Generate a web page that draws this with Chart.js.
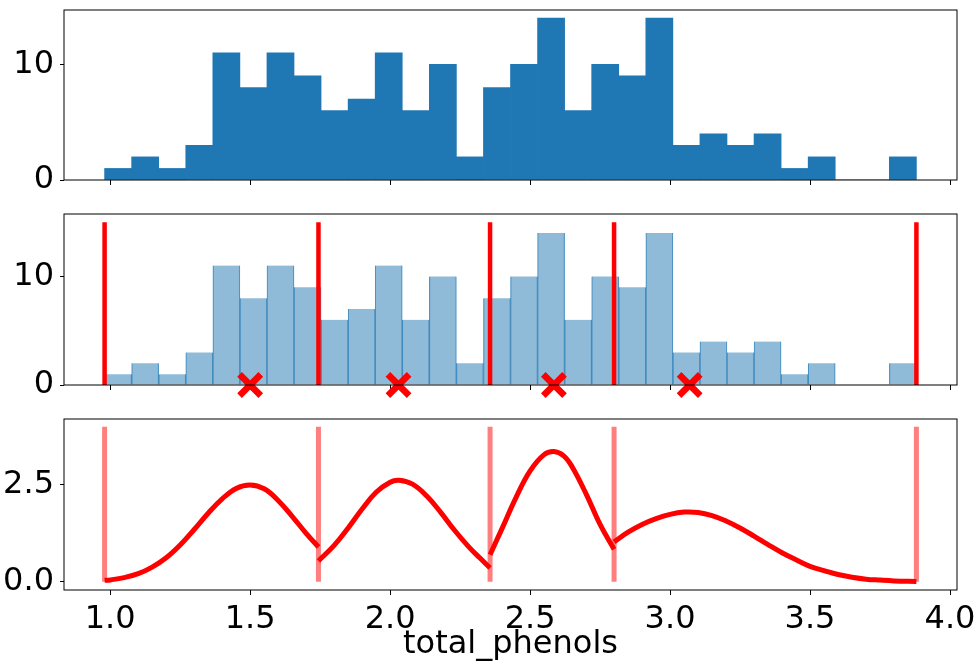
<!DOCTYPE html>
<html>
<head>
<meta charset="utf-8">
<script src="https://cdn.jsdelivr.net/npm/chart.js@4"></script>
<style>
  html, body { margin: 0; padding: 0; background: #fff; }
  #wrap { position: relative; width: 976px; height: 663px; }
  canvas { position: absolute; left: 0; }
</style>
</head>
<body>
<div id="wrap">
  <canvas id="top-hist" width="976" height="200" style="top:0px"></canvas>
  <canvas id="mid-hist" width="976" height="205" style="top:200px"></canvas>
  <canvas id="bins-curve" width="976" height="258" style="top:405px"></canvas>
</div>
<script>
// histogram of total_phenols, 30 bins
const binStart = 0.98;
const binEnd = 3.88;
const binCounts = [1, 2, 1, 3, 11, 8, 11, 9, 6, 7, 11, 6, 10, 2, 8, 10, 14, 6, 10, 9, 14, 3, 4, 3, 4, 1, 2, 0, 0, 2];

// bin edges (red lines) and cluster centers (red crosses)
const binEdges = [0.98, 1.744, 2.357, 2.80, 3.88];
const centers = [1.50, 2.03, 2.585, 3.07];
const edgeLineTop = 15;
const curveLineTop = 4;

// per-bin curves, [x, y]
const curve1 = [[0.98, 0.04], [1.00, 0.05], [1.05, 0.11], [1.10, 0.21], [1.15, 0.38], [1.20, 0.62], [1.25, 0.95],
  [1.30, 1.35], [1.35, 1.77], [1.40, 2.14], [1.45, 2.41], [1.50, 2.50], [1.55, 2.40], [1.60, 2.10], [1.65, 1.69],
  [1.70, 1.25], [1.744, 0.90]];
const curve2 = [[1.744, 0.54], [1.80, 0.94], [1.85, 1.39], [1.90, 1.88], [1.95, 2.31], [2.00, 2.57], [2.032, 2.62],
  [2.08, 2.52], [2.13, 2.22], [2.18, 1.80], [2.23, 1.33], [2.28, 0.91], [2.32, 0.62], [2.357, 0.36]];
const curve3 = [[2.357, 0.70], [2.40, 1.38], [2.45, 2.18], [2.50, 2.86], [2.55, 3.28], [2.585, 3.36], [2.62, 3.25],
  [2.65, 2.97], [2.70, 2.27], [2.75, 1.48], [2.80, 0.84]];
const curve4 = [[2.80, 1.03], [2.85, 1.28], [2.90, 1.48], [2.95, 1.63], [3.00, 1.74], [3.05, 1.80], [3.10, 1.79],
  [3.15, 1.71], [3.20, 1.57], [3.25, 1.39], [3.30, 1.18], [3.35, 0.96], [3.40, 0.75], [3.45, 0.57], [3.50, 0.40],
  [3.55, 0.29], [3.60, 0.19], [3.65, 0.12], [3.70, 0.07], [3.75, 0.045], [3.80, 0.025], [3.88, 0.01]];

// axis ticks
const xTicks = [1.0, 1.5, 2.0, 2.5, 3.0, 3.5, 4.0];
const histYTicks = [0, 10];
const curveYTicks = [0, 2.5];
const xMin = 0.835, xMax = 4.025;

const FONT = { family: "'DejaVu Sans'", size: 32 };
const TITLE_FONT = { family: "'DejaVu Sans'", size: 32 };
const BLUE = "#1f77b4";
const width = (binEnd - binStart) / binCounts.length;
const histData = binCounts.map((c, i) => ({ x: binStart + (i + 0.5) * width, y: c }));

function vlines(top) {
  const pts = [];
  binEdges.forEach(e => {
    pts.push({ x: e, y: 0 }, { x: e, y: top }, { x: e, y: null });
  });
  return pts;
}

function toXY(curve) {
  return curve.map(p => ({ x: p[0], y: p[1] }));
}

const frame = {
  id: "frame",
  afterDatasetsDraw(chart) {
    const { ctx, chartArea: a } = chart;
    ctx.save();
    ctx.strokeStyle = "#000";
    ctx.lineWidth = 1;
    ctx.strokeRect(a.left, a.top, a.right - a.left, a.bottom - a.top);
    ctx.restore();
  }
};

function xAxis(height, showLabels) {
  const axis = {
    type: "linear",
    min: xMin,
    max: xMax,
    offset: false,
    afterBuildTicks: s => { s.ticks = xTicks.map(v => ({ value: v })); },
    afterFit: s => { s.height = height; s.paddingLeft = 0; s.paddingRight = 0; },
    grid: { drawOnChartArea: false, drawTicks: true, tickLength: 5, color: "#000", offset: false },
    border: { display: false },
    ticks: { display: showLabels, color: "#000", font: FONT, padding: 5, maxRotation: 0, autoSkip: false,
      callback: v => v.toFixed(1) }
  };
  if (showLabels) {
    axis.title = { display: true, text: "total_phenols", color: "#000", font: TITLE_FONT, padding: { top: 0, bottom: -1 } };
  }
  return axis;
}

function yAxis(min, max, ticks, fmt) {
  return {
    min: min,
    max: max,
    afterBuildTicks: s => { s.ticks = ticks.map(v => ({ value: v })); },
    afterFit: s => { s.width = 64; s.paddingTop = 0; s.paddingBottom = 0; },
    grid: { drawOnChartArea: false, drawTicks: true, tickLength: 4, color: "#000" },
    border: { display: false },
    ticks: { color: "#000", font: FONT, padding: 6, callback: fmt }
  };
}

function baseOptions(padTop, xHeight, showLabels, yMin, yMax, yTicks, fmt) {
  return {
    responsive: false,
    animation: false,
    layout: { autoPadding: false, padding: { top: padTop, right: 19, left: 0, bottom: 0 } },
    plugins: { legend: { display: false }, tooltip: { enabled: false } },
    scales: { x: xAxis(xHeight, showLabels), y: yAxis(yMin, yMax, yTicks, fmt) }
  };
}

// top: plain histogram
new Chart(document.getElementById("top-hist"), {
  type: "bar",
  data: {
    datasets: [{
      data: histData,
      backgroundColor: BLUE,
      borderWidth: 0,
      barPercentage: 1,
      categoryPercentage: 1
    }]
  },
  options: baseOptions(10, 20, false, 0, 14.7, histYTicks, v => String(v)),
  plugins: [frame]
});

// middle: faded histogram with bin edges and centers
new Chart(document.getElementById("mid-hist"), {
  type: "bar",
  data: {
    datasets: [
      {
        data: histData,
        backgroundColor: "rgba(31,119,180,0.5)",
        borderColor: "rgba(31,119,180,0.7)",
        borderWidth: { left: 0.5, right: 0.5, top: 0, bottom: 0 },
        barPercentage: 1,
        categoryPercentage: 1,
        order: 3
      },
      {
        type: "line",
        data: vlines(edgeLineTop),
        borderColor: "#ff0000",
        borderWidth: 4.5,
        pointRadius: 0,
        spanGaps: false,
        order: 2
      },
      {
        type: "line",
        data: centers.map(c => ({ x: c, y: 0 })),
        showLine: false,
        pointStyle: "crossRot",
        pointRadius: 15,
        pointBorderWidth: 6.5,
        pointBorderColor: "#ff0000",
        pointBackgroundColor: "#ff0000",
        clip: false,
        order: 1
      }
    ]
  },
  options: baseOptions(14, 20, false, 0, 15.75, histYTicks, v => String(v)),
  plugins: [frame]
});

// bottom: per-bin curves
const curveStyle = {
  type: "line",
  borderColor: "#ff0000",
  borderWidth: 5,
  pointRadius: 0,
  tension: 0.4,
  order: 1
};

new Chart(document.getElementById("bins-curve"), {
  type: "line",
  data: {
    datasets: [
      {
        data: vlines(curveLineTop),
        borderColor: "rgba(255,0,0,0.5)",
        borderWidth: 5,
        pointRadius: 0,
        spanGaps: false,
        order: 2
      },
      Object.assign({ data: toXY(curve1) }, curveStyle),
      Object.assign({ data: toXY(curve2) }, curveStyle),
      Object.assign({ data: toXY(curve3) }, curveStyle),
      Object.assign({ data: toXY(curve4) }, curveStyle)
    ]
  },
  options: baseOptions(14, 73, true, -0.21, 4.2, curveYTicks, v => v.toFixed(1)),
  plugins: [frame]
});
</script>
</body>
</html>
